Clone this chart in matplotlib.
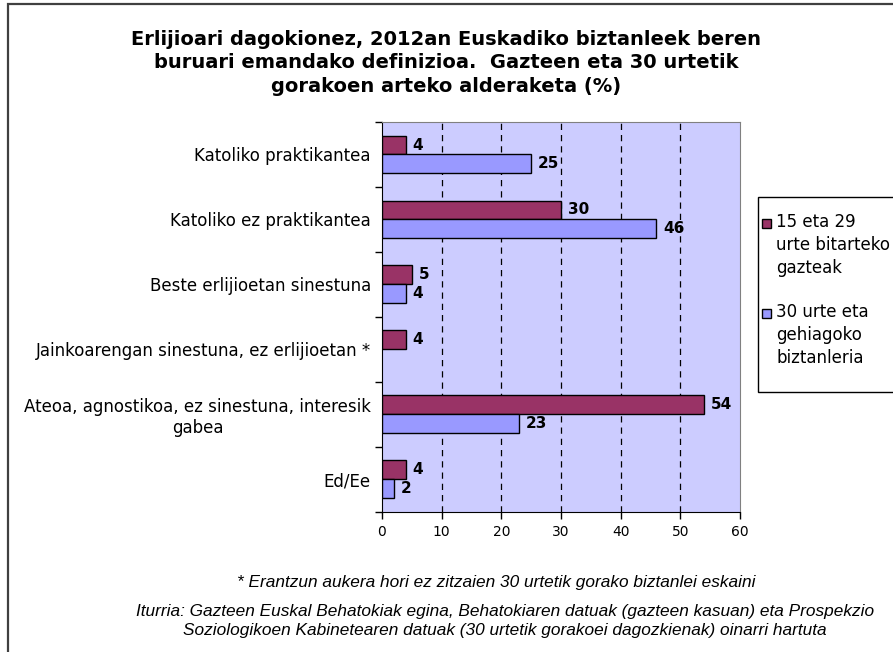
import matplotlib.pyplot as plt
from matplotlib.patches import Rectangle
import numpy as np

# data
categories = [
    "Katoliko praktikantea",
    "Katoliko ez praktikantea",
    "Beste erlijioetan sinestuna",
    "Jainkoarengan sinestuna, ez erlijioetan *",
    "Ateoa, agnostikoa, ez sinestuna, interesik\ngabea",
    "Ed/Ee",
]
gazteak = [4, 30, 5, 4, 54, 4]
helduak = [25, 46, 4, None, 23, 2]
series_names = ["15 eta 29\nurte bitarteko\ngazteak", "30 urte eta\ngehiagoko\nbiztanleria"]
xticks = [0, 10, 20, 30, 40, 50, 60]

title = ("Erlijioari dagokionez, 2012an Euskadiko biztanleek beren\n"
         "buruari emandako definizioa.  Gazteen eta 30 urtetik\n"
         "gorakoen arteko alderaketa (%)")
note1 = "* Erantzun aukera hori ez zitzaien 30 urtetik gorako biztanlei eskaini"
note2 = ("Iturria: Gazteen Euskal Behatokiak egina, Behatokiaren datuak (gazteen kasuan) eta Prospekzio\n"
         "Soziologikoen Kabinetearen datuak (30 urtetik gorakoei dagozkienak) oinarri hartuta")

purple = "#993366"
blue = "#9999ff"
bg = "#ccccff"
colors = [purple, blue]

W, H = 893, 652
fig = plt.figure(figsize=(W / 100, H / 100), dpi=100)
fig.patch.set_facecolor("white")

# outer frame (runs off the right and bottom edges in the original)
fig.patches.append(Rectangle((8 / W, -0.05), 1.2, 1 - 4 / H + 0.05, transform=fig.transFigure,
                             fill=False, edgecolor="#404040", linewidth=1.6))

ax = fig.add_axes([382 / W, 1 - 511.5 / H, 358 / W, 389.5 / H])
ax.set_facecolor(bg)

y = np.arange(len(categories))
h = 0.29
g_vals = np.array(gazteak, dtype=float)
b_vals = np.array([np.nan if v is None else v for v in helduak])

bars1 = ax.barh(y - h / 2, g_vals, height=h, color=purple, edgecolor="black", linewidth=1, zorder=3)
bars2 = ax.barh(y + h / 2, np.nan_to_num(b_vals), height=h, color=blue, edgecolor="black", linewidth=1, zorder=3)
for bar, v in zip(bars2, b_vals):
    if np.isnan(v):
        bar.set_visible(False)

for yy, v in zip(y - h / 2, g_vals):
    ax.annotate(f"{v:.0f}", (v, yy), xytext=(5, 0), textcoords="offset points",
                va="center", ha="left", fontsize=11, fontweight="bold")
for yy, v in zip(y + h / 2, b_vals):
    if not np.isnan(v):
        ax.annotate(f"{v:.0f}", (v, yy), xytext=(5, 0), textcoords="offset points",
                    va="center", ha="left", fontsize=11, fontweight="bold")

ax.set_xlim(0, 60)
ax.set_ylim(len(categories) - 0.5, -0.5)
ax.set_xticks(xticks)
ax.set_xticklabels([str(t) for t in xticks], fontsize=10)
ax.tick_params(axis="x", direction="out", length=5, width=1, pad=5)

ax.set_yticks(y)
ax.set_yticklabels(categories, fontsize=12)
for lab in ax.get_yticklabels():
    lab.set_multialignment("center")
ax.tick_params(axis="y", which="major", length=0, pad=8)
ax.set_yticks(np.arange(-0.5, len(categories)), minor=True)
ax.tick_params(axis="y", which="minor", direction="out", length=5, width=1)

for xv in xticks[1:-1]:
    ax.axvline(xv, color="black", linewidth=0.9, linestyle=(0, (5, 4)), zorder=1)

for side in ["top", "right"]:
    ax.spines[side].set_color("#808080")
for side in ["left", "bottom"]:
    ax.spines[side].set_color("black")

fig.text(446 / W, 1 - 63 / H, title, ha="center", va="center", fontsize=14,
         fontweight="bold", linespacing=1.3)

# legend, drawn by hand so it can run off the right edge like the original
fig.patches.append(Rectangle((758 / W, 1 - 392 / H), 0.3, 195 / H, transform=fig.transFigure,
                             fill=True, facecolor="white", edgecolor="black", linewidth=1, zorder=5))
for name, col, ytop in zip(series_names, colors, [224, 314]):
    fig.patches.append(Rectangle((762 / W, 1 - (ytop + 4) / H), 9 / W, 9 / H, transform=fig.transFigure,
                                 facecolor=col, edgecolor="black", linewidth=1, zorder=6))
    fig.text(776 / W, 1 - (ytop - 11) / H, name, ha="left", va="top", fontsize=12,
             linespacing=1.35, zorder=6)

fig.text(496 / W, 1 - 583 / H, note1, ha="center", va="center", fontsize=12.4,
         style="italic", family="Liberation Sans")
fig.text(505 / W, 1 - 621 / H, note2, ha="center", va="center", fontsize=12.4,
         style="italic", family="Liberation Sans", linespacing=1.3)

fig.savefig("out.png", dpi=100)
